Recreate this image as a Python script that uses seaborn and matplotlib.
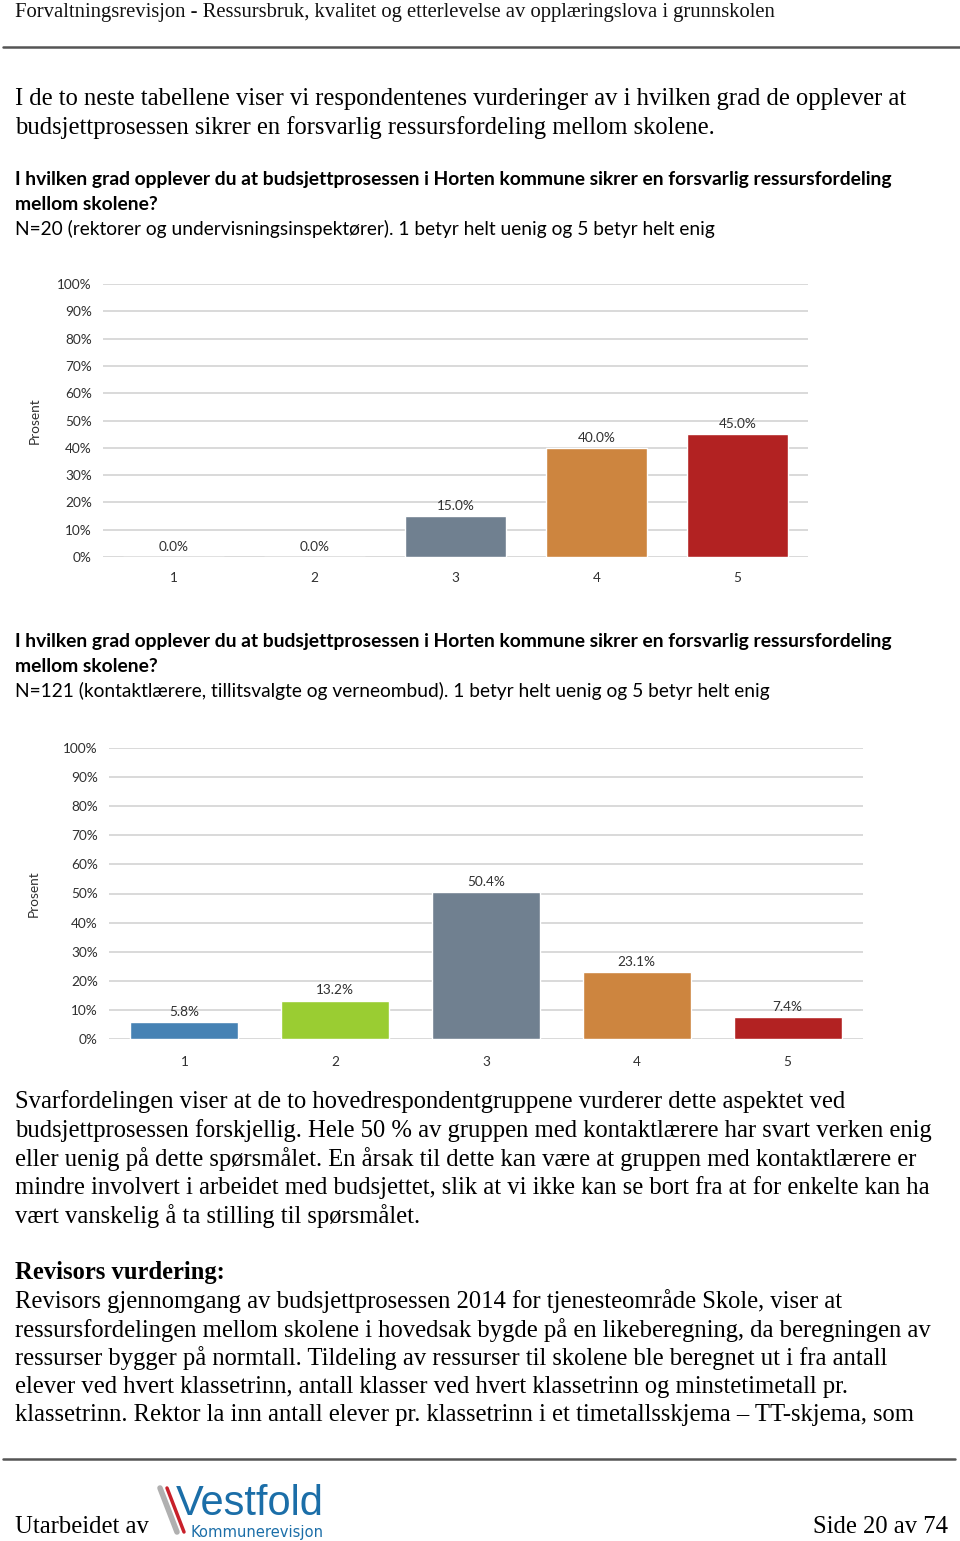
import matplotlib
matplotlib.use("Agg")
import matplotlib.pyplot as plt
import seaborn as sns
import pandas as pd
from matplotlib.lines import Line2D

sns.set_theme(style="white")
plt.rcParams['font.family'] = ['Lato', 'DejaVu Sans']

# data
scale_labels = ["1", "2", "3", "4", "5"]
bar_colors = ["#4682B4", "#9ACD32", "#708090", "#CD853F", "#B22222"]
leaders_pct = [0.0, 0.0, 15.0, 40.0, 45.0]
teachers_pct = [5.8, 13.2, 50.4, 23.1, 7.4]
y_ticks = [0, 10, 20, 30, 40, 50, 60, 70, 80, 90, 100]

header = "Forvaltningsrevisjon - Ressursbruk, kvalitet og etterlevelse av opplæringslova i grunnskolen"
intro_lines = [
    "I de to neste tabellene viser vi respondentenes vurderinger av i hvilken grad de opplever at",
    "budsjettprosessen sikrer en forsvarlig ressursfordeling mellom skolene.",
]
question_lines = [
    "I hvilken grad opplever du at budsjettprosessen i Horten kommune sikrer en forsvarlig ressursfordeling",
    "mellom skolene?",
]
n_leaders = "N=20 (rektorer og undervisningsinspektører). 1 betyr helt uenig og 5 betyr helt enig"
n_teachers = "N=121 (kontaktlærere, tillitsvalgte og verneombud). 1 betyr helt uenig og 5 betyr helt enig"
body_lines = [
    "Svarfordelingen viser at de to hovedrespondentgruppene vurderer dette aspektet ved",
    "budsjettprosessen forskjellig. Hele 50 % av gruppen med kontaktlærere har svart verken enig",
    "eller uenig på dette spørsmålet. En årsak til dette kan være at gruppen med kontaktlærere er",
    "mindre involvert i arbeidet med budsjettet, slik at vi ikke kan se bort fra at for enkelte kan ha",
    "vært vanskelig å ta stilling til spørsmålet.",
]
rev_title = "Revisors vurdering:"
rev_lines = [
    "Revisors gjennomgang av budsjettprosessen 2014 for tjenesteområde Skole, viser at",
    "ressursfordelingen mellom skolene i hovedsak bygde på en likeberegning, da beregningen av",
    "ressurser bygger på normtall. Tildeling av ressurser til skolene ble beregnet ut i fra antall",
    "elever ved hvert klassetrinn, antall klasser ved hvert klassetrinn og minstetimetall pr.",
    "klassetrinn. Rektor la inn antall elever pr. klassetrinn i et timetallsskjema \u2013 TT-skjema, som",
]

W, H = 960, 1541
fig = plt.figure(figsize=(W / 100, H / 100), dpi=100)


def fy(py):
    return 1 - py / H


def put(px, py, s, **kw):
    kw.setdefault("va", "center")
    fig.text(px / W, fy(py), s, **kw)


serif = ["Liberation Serif", "DejaVu Serif"]
SERIF_SIZE = 17.75
SANS_SIZE = 13.75
CHART_SIZE = 9.8
CHART_TEXT = "#303030"

# page header
put(15, 12, header, family=serif, fontsize=14.85, color="#111111")
fig.add_artist(Line2D([3 / W, 1], [fy(47), fy(47)], color="#555555", lw=1.8))

for i, s in enumerate(intro_lines):
    put(15, 99 + i * 28.5, s, family=serif, fontsize=SERIF_SIZE, color="black")


def question(top, n_text):
    for i, s in enumerate(question_lines):
        put(15, top + i * 25, s, fontsize=13.9, fontweight="bold", color="black")
    put(15, top + 50, n_text, fontsize=SANS_SIZE, color="black")


question(179, n_leaders)
question(641, n_teachers)


def bar_chart(rect, values, xpad):
    ax = fig.add_axes(rect)
    df = pd.DataFrame({"score": scale_labels, "pct": values})
    sns.barplot(data=df, x="score", y="pct", hue="score", palette=bar_colors,
                order=scale_labels, hue_order=scale_labels, legend=False,
                width=0.715, saturation=1, ax=ax)
    ax.set_ylim(0, 100)
    ax.set_xlim(-0.5, 4.5)
    ax.set_yticks(y_ticks)
    ax.set_yticklabels([f"{t}%" for t in y_ticks])
    ax.yaxis.grid(True, color="#d9d9d9", lw=1.4)
    ax.set_axisbelow(True)
    for sp in ax.spines.values():
        sp.set_visible(False)
    ax.tick_params(axis="y", length=0, pad=8, labelsize=CHART_SIZE, labelcolor=CHART_TEXT)
    ax.tick_params(axis="x", length=0, pad=xpad, labelsize=CHART_SIZE, labelcolor=CHART_TEXT)
    ax.set_xlabel("")
    ax.set_ylabel("Prosent", fontsize=CHART_SIZE, color=CHART_TEXT)
    for c in ax.containers:
        ax.bar_label(c, fmt="%.1f%%", padding=3, fontsize=CHART_SIZE, color=CHART_TEXT)
    return ax


ax1 = bar_chart([103 / W, fy(557), 705 / W, (557 - 284) / H], leaders_pct, 10.5)
ax1.yaxis.set_label_coords(-0.089, 0.5)
ax2 = bar_chart([109 / W, fy(1039), 754 / W, (1039 - 748) / H], teachers_pct, 12)
ax2.yaxis.set_label_coords(-0.0915, 0.5)

for i, s in enumerate(body_lines):
    put(15, 1102 + i * 28.6, s, family=serif, fontsize=SERIF_SIZE, color="black")
put(15, 1273, rev_title, family=serif, fontsize=SERIF_SIZE, fontweight="bold", color="black")
for i, s in enumerate(rev_lines):
    put(15, 1301 + i * 28.6, s, family=serif, fontsize=SERIF_SIZE, color="black")

# footer
fig.add_artist(Line2D([3 / W, 955 / W], [fy(1459), fy(1459)], color="#555555", lw=1.8))
put(15, 1527, "Utarbeidet av", family=serif, fontsize=SERIF_SIZE, color="black")
put(948, 1527, "Side 20 av 74", family=serif, fontsize=SERIF_SIZE, color="black", ha="right")
fig.add_artist(Line2D([160 / W, 177 / W], [fy(1488), fy(1532)], color="#b0b0b0", lw=4))
fig.add_artist(Line2D([167 / W, 184 / W], [fy(1488), fy(1532)], color="#c8202a", lw=2.5))
put(176, 1515, "Vestfold", family=["Liberation Sans"], fontsize=30, color="#1b6ea8", va="baseline")
put(190, 1532.5, "Kommunerevisjon", family=["DejaVu Sans"], fontsize=10.6, color="#1b6ea8")

fig.savefig("out.png", dpi=100)
